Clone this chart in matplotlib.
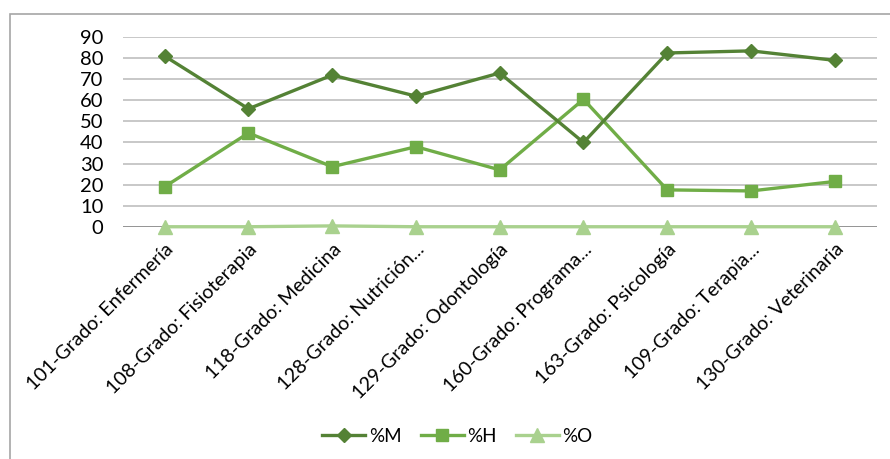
import matplotlib
matplotlib.use('Agg')
from matplotlib import pyplot as plt
from matplotlib.patches import Rectangle

# Chart data
categories = ['101-Grado: Enfermería', '108-Grado: Fisioterapia',
              '118-Grado: Medicina', '128-Grado: Nutrición...',
              '129-Grado: Odontología', '160-Grado: Programa...',
              '163-Grado: Psicología', '109-Grado: Terapia...',
              '130-Grado: Veterinaria']
pct_m = [81, 56, 72, 62, 73, 40, 82.5, 83.5, 79]
pct_h = [19, 44.5, 28.5, 38, 27, 60.5, 17.5, 17, 21.5]
pct_o = [0, 0, 0.4, 0, 0, 0, 0, 0, 0]
y_ticks = [0, 10, 20, 30, 40, 50, 60, 70, 80, 90]

plt.rcParams['font.family'] = ['Lato', 'DejaVu Sans']

fig = plt.figure(figsize=(8.9, 4.59), dpi=100)
ax = fig.add_axes([0.138, 0.506, 0.847, 0.413])

# Outer chart frame
fig.patches.append(Rectangle((10 / 890, -0.05), 1.2, 1 - 14 / 459 + 0.05,
                             transform=fig.transFigure, fill=False,
                             edgecolor='#A6A6A6', linewidth=1.2))

x = list(range(len(categories)))
ax.plot(x, pct_m, color='#548235', linewidth=2.4, marker='D',
        markersize=7, label='%M', zorder=4, clip_on=False)
ax.plot(x, pct_h, color='#70AD47', linewidth=2.4, marker='s',
        markersize=9, label='%H', zorder=3, clip_on=False)
ax.plot(x, pct_o, color='#A9D18E', linewidth=2.4, marker='^',
        markersize=10, label='%O', zorder=2, clip_on=False)

ax.set_xlim(-0.5, len(categories) - 0.5)
ax.set_ylim(0, 90)
ax.set_yticks(y_ticks)
ax.grid(axis='y', color='#BFBFBF', linewidth=1.2)
ax.set_axisbelow(True)
ax.axhline(0, color='#8C8C8C', linewidth=1.2, zorder=1)
for side in ['top', 'right', 'left', 'bottom']:
  ax.spines[side].set_visible(False)
ax.tick_params(axis='both', length=0, colors='black')
ax.tick_params(axis='y', pad=14, labelsize=14.5)
ax.set_xticks(x)
ax.set_xticklabels(categories, rotation=45, ha='right',
                   rotation_mode='anchor', fontsize=14)
ax.tick_params(axis='x', pad=10)

fig.legend(loc='center', bbox_to_anchor=(0.514, 0.05), ncol=3, frameon=False,
           fontsize=13.5, handlelength=2.3, columnspacing=1.0,
           handletextpad=0.2)

plt.savefig('out.png', dpi=100)
